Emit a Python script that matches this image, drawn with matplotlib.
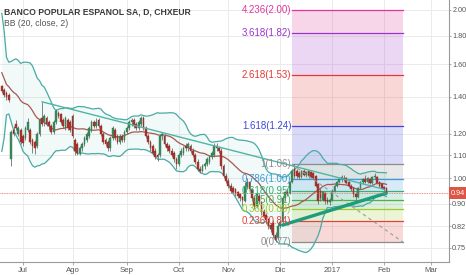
import numpy as np
import pandas as pd
import matplotlib
matplotlib.use("Agg")
import matplotlib.pyplot as plt
from matplotlib.ticker import NullLocator, FixedLocator, FixedFormatter

plt.rcParams['font.family'] = ['Liberation Sans Narrow', 'Liberation Sans', 'DejaVu Sans']

# ---------------- data ----------------
title = "BANCO POPULAR ESPANOL SA, D, CHXEUR"
indicator = "BB (20, close, 2)"

first_date = "2016-05-24"      # first bar used by the indicator
axis_origin = "2016-07-01"
calendar_end = "2017-03-31"

# closes before the first shown bar (only feed the Bollinger bands)
pre_close = [2.15, 2.12, 1.66, 1.58, 1.50, 1.42, 1.55, 1.60, 1.40, 1.34,
             1.36, 1.44, 1.52, 1.58, 1.54, 1.42, 1.46, 1.38, 1.44]

opens = [1.46, 1.44, 1.42, 1.41, 1.08, 1.22, 1.25, 1.20, 1.22, 1.19,
         1.18, 1.22, 1.22, 1.17, 1.16, 1.14, 1.20, 1.28, 1.26, 1.28,
         1.26, 1.24, 1.21, 1.26, 1.31, 1.30, 1.27, 1.23, 1.27, 1.26,
         1.29, 1.17, 1.15, 1.11, 1.13, 1.15, 1.17, 1.19, 1.22, 1.26,
         1.24, 1.27, 1.24, 1.20, 1.17, 1.16, 1.13, 1.18, 1.22, 1.19,
         1.16, 1.19, 1.17, 1.21, 1.23, 1.26, 1.27, 1.25, 1.23, 1.25,
         1.28, 1.23, 1.19, 1.16, 1.14, 1.12, 1.10, 1.10, 1.19, 1.19,
         1.15, 1.14, 1.12, 1.11, 1.08, 1.06, 1.10, 1.11, 1.14, 1.13,
         1.14, 1.12, 1.10, 1.07, 1.04, 1.03, 1.05, 1.06, 1.07, 1.09,
         1.10, 1.14, 1.13, 1.12, 1.05, 1.01, 0.99, 0.97, 0.96, 0.955,
         0.945, 0.935, 0.925, 0.91, 0.965, 0.985, 0.955, 0.92, 0.89, 0.93,
         0.905, 0.875, 0.86, 0.845, 0.825, 0.83, 0.79, 0.78, 0.82, 0.835,
         0.92, 0.945, 0.94, 0.985, 1.04, 1.03, 1.02, 1.005, 1.03, 1.015,
         1.03, 1.025, 1.02, 1.01, 0.975, 0.95, 0.915, 0.94, 0.915, 0.905,
         0.915, 0.95, 0.97, 0.985, 0.995, 1.00, 1.00, 0.985, 0.97, 0.96,
         0.935, 0.925, 0.96, 0.985, 0.995, 0.985, 0.995, 0.98, 1.005, 1.005,
         0.985, 0.975, 0.965, 0.96]
highs = [1.47, 1.45, 1.43, 1.42, 1.22, 1.24, 1.27, 1.24, 1.23, 1.20,
         1.24, 1.28, 1.23, 1.18, 1.17, 1.21, 1.28, 1.37, 1.30, 1.29,
         1.27, 1.25, 1.27, 1.33, 1.32, 1.31, 1.28, 1.29, 1.28, 1.27,
         1.30, 1.18, 1.16, 1.14, 1.16, 1.19, 1.21, 1.24, 1.27, 1.27,
         1.28, 1.28, 1.25, 1.21, 1.18, 1.17, 1.19, 1.24, 1.23, 1.20,
         1.20, 1.20, 1.22, 1.24, 1.27, 1.28, 1.28, 1.26, 1.27, 1.29,
         1.29, 1.24, 1.20, 1.17, 1.15, 1.13, 1.11, 1.20, 1.21, 1.20,
         1.16, 1.15, 1.13, 1.12, 1.09, 1.11, 1.13, 1.14, 1.155, 1.16,
         1.15, 1.13, 1.11, 1.08, 1.05, 1.06, 1.07, 1.09, 1.10, 1.12,
         1.155, 1.155, 1.14, 1.13, 1.06, 1.02, 1.00, 0.98, 0.97, 0.96,
         0.95, 0.94, 0.93, 0.985, 1.00, 0.99, 0.96, 0.93, 0.945, 0.94,
         0.91, 0.88, 0.865, 0.85, 0.83, 0.84, 0.80, 0.83, 0.84, 0.93,
         0.95, 0.96, 0.99, 1.04, 1.058, 1.04, 1.03, 1.035, 1.04, 1.03,
         1.035, 1.03, 1.025, 1.015, 0.98, 0.96, 0.95, 0.945, 0.925, 0.92,
         0.955, 0.975, 0.99, 1.00, 1.012, 1.012, 1.005, 0.99, 0.975, 0.965,
         0.945, 0.965, 0.99, 1.00, 1.012, 1.005, 1.00, 1.01, 1.02, 1.01,
         0.99, 0.98, 0.97, 0.965]
lows = [1.42, 1.40, 1.38, 1.37, 1.05, 1.19, 1.22, 1.19, 1.15, 1.14,
        1.17, 1.21, 1.15, 1.11, 1.105, 1.13, 1.19, 1.24, 1.24, 1.24,
        1.22, 1.20, 1.20, 1.25, 1.28, 1.25, 1.23, 1.22, 1.22, 1.21,
        1.18, 1.10, 1.10, 1.10, 1.12, 1.14, 1.16, 1.18, 1.21, 1.23,
        1.23, 1.23, 1.19, 1.15, 1.14, 1.12, 1.12, 1.17, 1.17, 1.15,
        1.15, 1.16, 1.16, 1.20, 1.22, 1.24, 1.23, 1.22, 1.22, 1.24,
        1.22, 1.18, 1.15, 1.12, 1.10, 1.08, 1.075, 1.09, 1.17, 1.14,
        1.12, 1.11, 1.09, 1.07, 1.04, 1.05, 1.09, 1.10, 1.12, 1.12,
        1.11, 1.09, 1.06, 1.03, 1.02, 1.025, 1.04, 1.05, 1.06, 1.08,
        1.09, 1.12, 1.11, 1.04, 1.00, 0.98, 0.96, 0.94, 0.94, 0.93,
        0.92, 0.91, 0.89, 0.905, 0.955, 0.95, 0.91, 0.88, 0.885, 0.90,
        0.86, 0.85, 0.83, 0.81, 0.80, 0.78, 0.768, 0.775, 0.815, 0.83,
        0.91, 0.93, 0.935, 0.98, 1.00, 1.00, 0.995, 1.00, 1.01, 1.005,
        1.00, 1.00, 0.995, 0.965, 0.90, 0.91, 0.91, 0.90, 0.90, 0.895,
        0.91, 0.945, 0.965, 0.98, 0.985, 0.99, 0.975, 0.965, 0.95, 0.925,
        0.915, 0.92, 0.955, 0.975, 0.98, 0.98, 0.975, 0.975, 0.995, 0.975,
        0.965, 0.955, 0.95, 0.935]
closes = [1.43, 1.41, 1.40, 1.38, 1.21, 1.20, 1.23, 1.23, 1.16, 1.155,
          1.23, 1.26, 1.16, 1.14, 1.13, 1.20, 1.27, 1.25, 1.29, 1.25,
          1.24, 1.21, 1.26, 1.32, 1.29, 1.26, 1.24, 1.28, 1.23, 1.22,
          1.19, 1.12, 1.11, 1.13, 1.15, 1.18, 1.20, 1.23, 1.26, 1.24,
          1.26, 1.24, 1.20, 1.16, 1.15, 1.13, 1.18, 1.23, 1.18, 1.16,
          1.19, 1.17, 1.21, 1.23, 1.26, 1.27, 1.24, 1.23, 1.26, 1.28,
          1.23, 1.19, 1.16, 1.13, 1.11, 1.09, 1.09, 1.19, 1.20, 1.15,
          1.13, 1.12, 1.10, 1.08, 1.06, 1.10, 1.12, 1.13, 1.13, 1.15,
          1.12, 1.10, 1.07, 1.04, 1.03, 1.05, 1.06, 1.08, 1.09, 1.11,
          1.14, 1.13, 1.12, 1.05, 1.01, 0.99, 0.97, 0.95, 0.945, 0.94,
          0.93, 0.92, 0.915, 0.97, 0.985, 0.955, 0.92, 0.89, 0.935, 0.91,
          0.87, 0.855, 0.84, 0.82, 0.81, 0.79, 0.775, 0.82, 0.835, 0.92,
          0.945, 0.935, 0.985, 1.03, 1.01, 1.01, 1.005, 1.03, 1.015, 1.025,
          1.01, 1.005, 1.00, 0.97, 0.91, 0.92, 0.945, 0.91, 0.905, 0.915,
          0.95, 0.97, 0.985, 0.995, 1.005, 0.995, 0.98, 0.97, 0.955, 0.935,
          0.925, 0.96, 0.985, 0.995, 0.985, 1.00, 0.98, 1.005, 1.01, 0.98,
          0.97, 0.96, 0.955, 0.94]

month_labels = ["Jul", "Ago", "Sep", "Oct", "Nov", "Dic", "2017", "Feb", "Mar"]
month_starts = ["2016-07-01", "2016-08-01", "2016-09-01", "2016-10-01", "2016-11-01",
                "2016-12-01", "2017-01-01", "2017-02-01", "2017-03-01"]
price_ticks = [0.75, 0.82, 0.90, 1.00, 1.10, 1.20, 1.40, 1.60, 1.80, 2.00]

fib_ratios = [0, 0.236, 0.382, 0.5, 0.618, 0.786, 1, 1.618, 2.618, 3.618, 4.236]
fib_colors = ["#8c8c8c", "#e0453c", "#9ccc2c", "#4caf50", "#35b07a", "#3d9ad8",
              "#8c8c8c", "#3f48d8", "#e53935", "#9c33cc", "#e0349a"]
fib_low, fib_high = 0.768, 1.058
fib_start, fib_end = "2016-12-08", "2017-02-13"

trend_thin = [("2016-07-13", 1.37), ("2017-02-01", 0.955)]
trend_thick = [("2016-12-02", 0.824), ("2017-02-02", 0.94)]

# ---------------- calendar / positions ----------------
cal = pd.bdate_range(first_date, calendar_end)
origin = cal.get_loc(pd.Timestamp(axis_origin))

def xpos(d):
    return cal.searchsorted(pd.Timestamp(d)) - origin

n_pre = len(pre_close)
all_close = pd.Series(pre_close + closes)
x_all = np.arange(len(all_close)) - origin
x_bar = x_all[n_pre:]

mid = all_close.rolling(20).mean()
sd = all_close.rolling(20).std(ddof=0)
upper = mid + 2 * sd
lower = mid - 2 * sd

# ---------------- figure ----------------
W, H = 466, 275
fig = plt.figure(figsize=(W / 100, H / 100), dpi=100)
fig.patch.set_facecolor("white")
ax = fig.add_axes([0, 13 / H, 449 / W, 262 / H])
ax.set_yscale("log")
ax.set_xlim(-9.75, 180.5)
ax.set_ylim(0.7077, 2.084)

# grid
for m in month_starts:
    ax.axvline(xpos(m), color="#ebebeb", lw=0.7, zorder=0)
for t in price_ticks:
    ax.axhline(t, color="#ebebeb", lw=0.7, zorder=0)

# Fibonacci levels
fs, fe = xpos(fib_start), xpos(fib_end)
fib_prices = [fib_low + r * (fib_high - fib_low) for r in fib_ratios]
for i in range(1, len(fib_ratios)):
    ax.fill_between([fs, fe], fib_prices[i - 1], fib_prices[i],
                    color=fib_colors[i], alpha=0.2, lw=0, zorder=1)
for r, p, c in zip(fib_ratios, fib_prices, fib_colors):
    ax.plot([fs, fe], [p, p], color=c, lw=0.9, zorder=3)
    ax.text(fs - 0.3, p, f"{r:g}({p:.2f})", color=c, fontsize=7,
            ha="right", va="center", zorder=8)
ax.plot([fs, fe], [fib_high, fib_low], color="#9a9a9a", lw=0.8,
        ls=(0, (3, 3)), zorder=6)

# Bollinger bands
vis = slice(n_pre - 1, None)
ax.fill_between(x_all[vis], lower[vis], upper[vis], color="#26a69a",
                alpha=0.06, lw=0, zorder=2)
ax.plot(x_all[vis], upper[vis], color="#48aba4", lw=0.9, zorder=4)
ax.plot(x_all[vis], lower[vis], color="#48aba4", lw=0.9, zorder=4)
ax.plot(x_all[vis], mid[vis], color="#a8584f", lw=0.9, zorder=4)

# candles
o = np.array(opens); c = np.array(closes); h = np.array(highs); l = np.array(lows)
up = c >= o
ax.vlines(x_bar, l, h, color="#6f6f6f", lw=0.6, zorder=5)
body_lo = np.minimum(o, c)
body_hi = np.maximum(o, c)
ax.bar(x_bar[up], body_hi[up] - body_lo[up], bottom=body_lo[up], width=0.72,
       color="#3a8a5c", edgecolor="#2f7a4e", lw=0.3, zorder=5.5)
ax.bar(x_bar[~up], body_hi[~up] - body_lo[~up], bottom=body_lo[~up], width=0.72,
       color="#a8352e", edgecolor="#962a24", lw=0.3, zorder=5.5)

# trend lines
ax.plot([xpos(d) for d, _ in trend_thin], [p for _, p in trend_thin],
        color="#4fb5a5", lw=1.0, zorder=6, solid_capstyle="round")
ax.plot([xpos(d) for d, _ in trend_thick], [p for _, p in trend_thick],
        color="#1f9c7c", lw=2.4, zorder=6, solid_capstyle="round")

# last price line
last = closes[-1]
ax.axhline(last, color="#e06a60", lw=0.6, ls=(0, (1, 1)), zorder=6)

# axes styling
for s in ["top", "left"]:
    ax.spines[s].set_visible(False)
for s in ["right", "bottom"]:
    ax.spines[s].set_color("#9a9a9a")
    ax.spines[s].set_linewidth(0.8)
ax.yaxis.tick_right()
ax.yaxis.set_major_locator(FixedLocator(price_ticks))
ax.yaxis.set_major_formatter(FixedFormatter([f"{t:.2f}" for t in price_ticks]))
ax.yaxis.set_minor_locator(NullLocator())
ax.set_xticks([xpos(m) for m in month_starts])
ax.set_xticklabels(month_labels)
ax.xaxis.set_minor_locator(NullLocator())
ax.tick_params(axis="x", length=2, width=0.6, color="#9a9a9a",
               labelsize=5.6, labelcolor="#555555", pad=1.5)
ax.tick_params(axis="y", length=1.5, width=0.6, color="#9a9a9a",
               labelsize=5.2, labelcolor="#555555", pad=0.8)

# last price tag
ax.annotate(f"{last:.2f}", xy=(1.0, last), xycoords=("axes fraction", "data"),
            xytext=(1.2, 0), textcoords="offset points", ha="left", va="center",
            fontsize=5.2, color="white", zorder=10, annotation_clip=False,
            bbox=dict(boxstyle="square,pad=0.3", fc="#de5445", ec="none"))

# header texts
fig.text(4 / W, 1 - 11.5 / H, title, fontsize=6.2, color="#3a3a3a",
         fontweight="bold", ha="left", va="center")
fig.text(4 / W, 1 - 23.5 / H, indicator, fontsize=6.2, color="#555555",
         ha="left", va="center")

fig.savefig("out.png", dpi=100)
